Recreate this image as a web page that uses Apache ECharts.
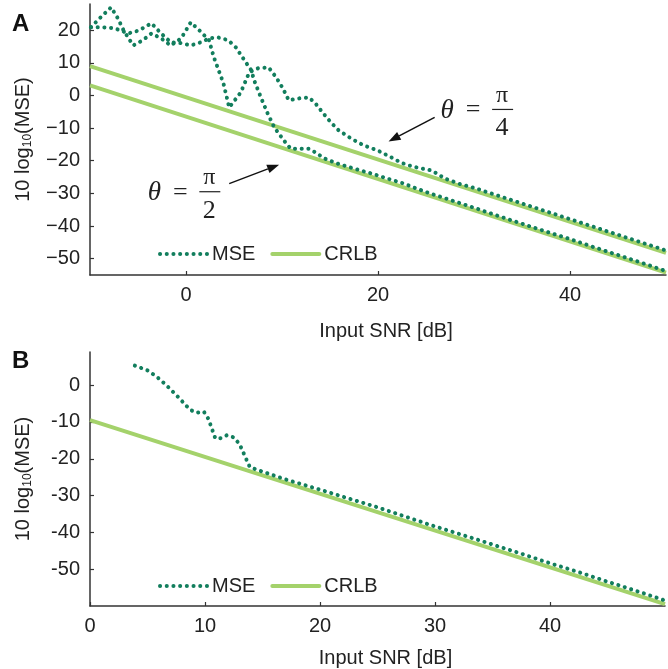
<!DOCTYPE html>
<html><head><meta charset="utf-8">
<script src="https://cdn.jsdelivr.net/npm/echarts@6/dist/echarts.min.js"></script>
<style>html,body{margin:0;padding:0;background:#fff}#c{width:668px;height:669px}</style>
</head><body><div id="c"></div>
<script>
// ---------- Panel A data ----------
const mseA_pi4 = [[-9.9,20.9],[-8.9,23.9],[-7.8,27.0],[-7.1,23.6],[-6.5,19.9],[-5.5,15.3],[-4.5,16.9],[-3.6,19.0],[-2.6,17.5],[-1.6,15.3],[-0.5,17.5],[0.5,22.4],[1.4,19.9],[2.4,16.9],[2.9,11.7],[3.9,3.7],[4.5,-3.7],[5.7,0.9],[6.6,7.1],[7.5,8.3],[8.6,8.6],[9.4,5.5],[10.1,2.1],[10.7,-1.5],[11.8,-0.9],[12.8,-0.6],[13.5,-2.5],[14.3,-5.5],[15.1,-8.3],[15.9,-10.7],[17.2,-13.2],[18.5,-15.3],[20.0,-16.9],[21.4,-19.0],[22.4,-20.6],[23.6,-21.8],[24.6,-22.4],[25.6,-23.0],[27.0,-25.5],[28.5,-27.1],[30,-28.3],[32.5,-30.7],[35,-33.1],[37.5,-35.5],[40,-37.9],[42.5,-40.3],[45,-42.7],[47.5,-45.1],[50,-47.5]];
const mseA_pi2 = [[-9.9,20.9],[-8.9,20.9],[-7.5,20.6],[-6.0,19.0],[-4.9,19.9],[-3.6,22.1],[-2.6,19.0],[-1.6,16.3],[-0.5,16.0],[0.5,15.3],[1.6,16.3],[2.4,17.5],[3.3,17.8],[4.4,16.9],[5.2,14.7],[6.1,10.7],[6.8,7.7],[7.1,4.6],[7.8,-0.6],[8.5,-5.5],[9.2,-9.8],[10.2,-13.8],[10.9,-16.3],[12.0,-16.3],[12.8,-16.3],[13.5,-17.5],[14.4,-19.3],[15.8,-20.9],[17.5,-22.4],[19.3,-23.9],[21.0,-25.5],[22.4,-26.7],[25,-29.6],[27.5,-32.0],[30,-34.4],[32.5,-36.9],[35,-39.3],[37.5,-41.7],[40,-44.0],[42.5,-46.5],[45,-48.9],[47.5,-51.3],[50,-53.8]];
const crlbA_pi4 = [[-10,9.0],[50,-48.2]];
const crlbA_pi2 = [[-10,3.1],[50,-54.3]];
// ---------- Panel B data ----------
const mseB = [[3.9,5.3],[5.0,4.0],[5.8,2.3],[6.7,-0.2],[7.5,-2.7],[8.2,-5.0],[8.7,-6.7],[9.3,-7.5],[9.9,-7.2],[10.3,-9.2],[10.9,-14.5],[11.4,-14.4],[11.9,-13.6],[12.5,-14.2],[13.0,-16.0],[13.5,-19.5],[13.9,-22.3],[15,-23.5],[17,-25.6],[20,-28.4],[22.5,-30.8],[25,-33.2],[27.5,-35.8],[30,-38.4],[32.5,-40.8],[35,-43.3],[37.5,-45.8],[40,-48.4],[42.5,-50.8],[45,-53.4],[47.5,-55.9],[50,-58.5]];
const crlbB = [[0,-9.5],[50,-59.5]];
// ---------- ticks ----------
const xTicksA = [0,20,40];
const yTicksA = [-50,-40,-30,-20,-10,0,10,20];
const xTicksB = [0,10,20,30,40];
const yTicksB = [-50,-40,-30,-20,-10,0];
const legendNames = ['MSE','CRLB'];

const MSE_COLOR = '#127e5d';
const CRLB_COLOR = '#a4d26b';
const FONT = 'Liberation Sans, Arial, sans-serif';
const TXT = '#222';

const chart = echarts.init(document.getElementById('c'), null, {renderer:'canvas'});

function xAxis(gi, min, max, ticks, gap){
  return {type:'value', gridIndex:gi, min, max,
    axisLine:{onZero:false, lineStyle:{color:'#333', width:1.5}},
    axisTick:{inside:true, length:4, customValues:ticks, lineStyle:{color:'#333', width:1.2}},
    axisLabel:{customValues:ticks, color:TXT, fontSize:20, fontFamily:FONT, margin:10},
    splitLine:{show:false},
    name:'Input SNR [dB]', nameLocation:'middle', nameGap:gap,
    nameTextStyle:{color:TXT, fontSize:20, fontFamily:FONT, padding:[0,0,0,16]}
  };
}
function yAxis(gi, min, max, ticks, minusChar){
  return {type:'value', gridIndex:gi, min, max,
    axisLine:{onZero:false, lineStyle:{color:'#333', width:1.5}},
    axisTick:{inside:true, length:4, customValues:ticks, lineStyle:{color:'#333', width:1.2}},
    axisLabel:{customValues:ticks, color:TXT, fontSize:20, fontFamily:FONT, margin:10,
      formatter: v => (v<0 ? minusChar + Math.abs(v) : String(v))},
    splitLine:{show:false},
    name:'{n|10 log}{s|10}{n|(MSE)}', nameLocation:'middle', nameGap:56, nameRotate:90,
    nameTextStyle:{color:TXT, fontFamily:FONT,
      rich:{n:{fontSize:20, fontFamily:FONT, color:TXT}, s:{fontSize:12, fontFamily:FONT, color:TXT, padding:[10,0,0,0]}}}
  };
}
function mseSeries(name, data, xi, yi){
  return {type:'line', name, data, xAxisIndex:xi, yAxisIndex:yi, symbol:'none', z:3,
    lineStyle:{color:MSE_COLOR, width:4, type:[0.1,6.6], cap:'round'},
    itemStyle:{color:MSE_COLOR}};
}
function crlbSeries(name, data, xi, yi){
  return {type:'line', name, data, xAxisIndex:xi, yAxisIndex:yi, symbol:'none', z:2,
    lineStyle:{color:CRLB_COLOR, width:4}, itemStyle:{color:CRLB_COLOR}};
}
function legend(top){
  return {data:legendNames, left:153, top, itemWidth:47, itemHeight:14, itemGap:15,
    itemStyle:{opacity:0}, lineStyle:{width:4, cap:'round'},
    textStyle:{color:TXT, fontSize:20, fontFamily:FONT}, selectedMode:false};
}

chart.setOption({
  animation:false,
  backgroundColor:'#fff',
  grid:[{left:90, right:2, top:4, bottom:394},{left:90, right:3, top:352, bottom:61}],
  xAxis:[xAxis(0,-10,50,xTicksA,46), xAxis(1,0,50,xTicksB,42)],
  yAxis:[yAxis(0,-55,28,yTicksA,'\u2212'), yAxis(1,-60,9,yTicksB,'-')],
  legend:[legend(239), legend(571)],
  series:[
    crlbSeries('CRLB', crlbA_pi4, 0, 0),
    crlbSeries('CRLB', crlbA_pi2, 0, 0),
    mseSeries('MSE', mseA_pi4, 0, 0),
    mseSeries('MSE', mseA_pi2, 0, 0),
    crlbSeries('CRLB', crlbB, 1, 1),
    mseSeries('MSE', mseB, 1, 1)
  ]
});

// ---------- annotations (anchored in data coordinates) ----------
const notes = [
  {den:'4', label:[27.2,-4.6], tail:[25.9,-6.7], head:[21.1,-14.1]},
  {den:'2', label:[-3.3,-29.8], tail:[4.5,-27.0], head:[9.7,-21.2]}
];
const graphics = [
  {type:'text', left:12, top:12, style:{text:'A', font:'bold 24px '+FONT, fill:'#111'}},
  {type:'text', left:12, top:349, style:{text:'B', font:'bold 24px '+FONT, fill:'#111'}}
];
const SERIF = 'Liberation Serif, DejaVu Serif, serif';
notes.forEach(n => {
  const p = chart.convertToPixel({gridIndex:0}, n.label);
  const t = chart.convertToPixel({gridIndex:0}, n.tail);
  const h = chart.convertToPixel({gridIndex:0}, n.head);
  graphics.push({type:'text', x:p[0], y:p[1], style:{text:'\u03b8', font:'italic 27px '+SERIF, fill:'#222', align:'center', verticalAlign:'middle'}});
  graphics.push({type:'text', x:p[0]+26, y:p[1], style:{text:'=', font:'26px '+SERIF, fill:'#222', align:'center', verticalAlign:'middle'}});
  graphics.push({type:'text', x:p[0]+55, y:p[1]-15, style:{text:'\u03c0', font:'24px '+SERIF, fill:'#222', align:'center', verticalAlign:'middle'}});
  graphics.push({type:'line', shape:{x1:p[0]+45, y1:p[1]-1, x2:p[0]+66, y2:p[1]-1}, style:{stroke:'#222', lineWidth:1.2}});
  graphics.push({type:'text', x:p[0]+55, y:p[1]+18, style:{text:n.den, font:'26px '+SERIF, fill:'#222', align:'center', verticalAlign:'middle'}});
  const dx = h[0]-t[0], dy = h[1]-t[1], L = Math.hypot(dx,dy), ux = dx/L, uy = dy/L;
  const hl = 12, hw = 4.5;
  const bx = h[0]-ux*hl, by = h[1]-uy*hl;
  graphics.push({type:'line', shape:{x1:t[0], y1:t[1], x2:bx, y2:by}, style:{stroke:'#111', lineWidth:1.5}});
  graphics.push({type:'polygon', shape:{points:[[h[0],h[1]],[bx-uy*hw, by+ux*hw],[bx+uy*hw, by-ux*hw]]}, style:{fill:'#111'}});
});
chart.setOption({graphic:graphics});
</script>
</body></html>
